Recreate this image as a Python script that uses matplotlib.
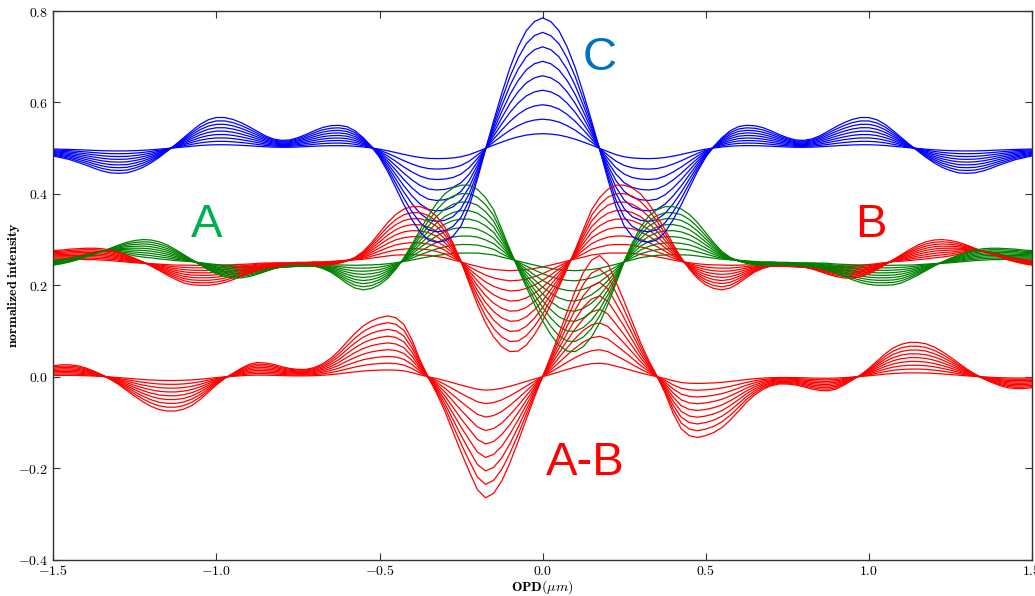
import numpy as np
import matplotlib
matplotlib.use('Agg')
import matplotlib.pyplot as plt
from matplotlib.ticker import FuncFormatter, MultipleLocator

plt.rcParams['mathtext.fontset'] = 'cm'

# OPD sample positions (um)
opd = np.linspace(-1.5, 1.5, 121)

# fringe visibilities of the 9 curves per family (outermost curve = 0.9)
visibility = [0.1, 0.2, 0.3, 0.4, 0.5, 0.6, 0.7, 0.8, 0.9]

# C output, outermost curve, node level 0.5
c_base = 0.5
c_outer = [
    0.483, 0.479, 0.475, 0.469, 0.463, 0.456, 0.450, 0.446, 0.445, 0.446,
    0.451, 0.458, 0.468, 0.480, 0.494, 0.508, 0.523, 0.538, 0.552, 0.562,
    0.567, 0.567, 0.563, 0.556, 0.547, 0.537, 0.527, 0.520, 0.517, 0.518,
    0.523, 0.530, 0.538, 0.545, 0.549, 0.550, 0.547, 0.538, 0.523, 0.504,
    0.480, 0.449, 0.413, 0.376, 0.343, 0.316, 0.299, 0.294, 0.297, 0.307,
    0.330, 0.372, 0.432, 0.497, 0.560, 0.620, 0.676, 0.722, 0.757, 0.777,
    0.785,
    0.777, 0.757, 0.722, 0.676, 0.620, 0.560, 0.497, 0.432, 0.372, 0.330,
    0.307, 0.297, 0.294, 0.299, 0.316, 0.343, 0.376, 0.413, 0.449, 0.480,
    0.504, 0.523, 0.538, 0.547, 0.550, 0.549, 0.545, 0.538, 0.530, 0.523,
    0.518, 0.517, 0.520, 0.527, 0.537, 0.547, 0.556, 0.563, 0.567, 0.567,
    0.562, 0.552, 0.538, 0.523, 0.508, 0.494, 0.480, 0.468, 0.458, 0.451,
    0.446, 0.445, 0.446, 0.450, 0.456, 0.463, 0.469, 0.475, 0.479, 0.483,
]

# A-B, outermost curve, node level 0
ab_base = 0.0
ab_outer = [
    0.024, 0.026, 0.026, 0.024, 0.019, 0.012, 0.004, -0.006, -0.017, -0.030,
    -0.043, -0.055, -0.065, -0.072, -0.075, -0.075, -0.071, -0.063, -0.050, -0.034,
    -0.018, -0.004, 0.007, 0.018, 0.027, 0.031, 0.030, 0.027, 0.022, 0.018,
    0.016, 0.016, 0.020, 0.028, 0.040, 0.056, 0.076, 0.095, 0.111, 0.122,
    0.129, 0.133, 0.129, 0.114, 0.080, 0.035, -0.002, -0.036, -0.075, -0.120,
    -0.165, -0.207, -0.247, -0.265, -0.255, -0.228, -0.188, -0.142, -0.093, -0.045,
    0.000,
    0.045, 0.093, 0.142, 0.188, 0.228, 0.255, 0.265, 0.247, 0.207, 0.165,
    0.120, 0.075, 0.036, 0.002, -0.035, -0.080, -0.114, -0.129, -0.133, -0.129,
    -0.122, -0.111, -0.095, -0.076, -0.056, -0.040, -0.028, -0.020, -0.016, -0.016,
    -0.018, -0.022, -0.027, -0.030, -0.031, -0.027, -0.018, -0.007, 0.004, 0.018,
    0.034, 0.050, 0.063, 0.071, 0.075, 0.075, 0.072, 0.065, 0.055, 0.043,
    0.030, 0.017, 0.006, -0.004, -0.012, -0.019, -0.024, -0.026, -0.026, -0.024,
]

# A output (green): outermost curve and node line
a_outer = [
    0.244, 0.247, 0.251, 0.256, 0.262, 0.268, 0.274, 0.281, 0.288, 0.294,
    0.298, 0.300, 0.299, 0.295, 0.288, 0.278, 0.267, 0.256, 0.245, 0.234,
    0.225, 0.219, 0.216, 0.216, 0.219, 0.224, 0.230, 0.236, 0.240, 0.243,
    0.244, 0.244, 0.242, 0.237, 0.229, 0.217, 0.204, 0.194, 0.190, 0.193,
    0.201, 0.215, 0.235, 0.260, 0.290, 0.322, 0.352, 0.379, 0.400, 0.413,
    0.419, 0.419, 0.410, 0.392, 0.365, 0.322, 0.278, 0.236, 0.196, 0.158,
    0.122, 0.092, 0.069, 0.056, 0.055, 0.066, 0.087, 0.118, 0.158, 0.204,
    0.252, 0.293, 0.327, 0.351, 0.365, 0.372, 0.372, 0.367, 0.355, 0.337,
    0.315, 0.293, 0.274, 0.261, 0.253, 0.248, 0.245, 0.244, 0.244, 0.244,
    0.244, 0.243, 0.242, 0.240, 0.237, 0.232, 0.226, 0.219, 0.212, 0.206,
    0.202, 0.200, 0.200, 0.201, 0.205, 0.213, 0.222, 0.232, 0.242, 0.251,
    0.259, 0.266, 0.272, 0.277, 0.280, 0.281, 0.281, 0.280, 0.279, 0.277,
    0.276,
]
a_base = [
    0.256, 0.258, 0.261, 0.265, 0.269, 0.273, 0.275, 0.274, 0.270, 0.265,
    0.260, 0.257, 0.255, 0.253, 0.252, 0.251, 0.251, 0.251, 0.250, 0.249,
    0.248, 0.247, 0.246, 0.245, 0.244, 0.243, 0.242, 0.241, 0.240, 0.240,
    0.241, 0.242, 0.243, 0.245, 0.246, 0.248, 0.249, 0.250, 0.251, 0.251,
    0.251, 0.251, 0.251, 0.251, 0.251, 0.251, 0.251, 0.251, 0.251, 0.252,
    0.252, 0.252, 0.253, 0.253, 0.254, 0.254, 0.255, 0.255, 0.255, 0.255,
    0.255, 0.255, 0.255, 0.255, 0.254, 0.254, 0.253, 0.252, 0.252, 0.251,
    0.251, 0.251, 0.252, 0.252, 0.253, 0.253, 0.254, 0.254, 0.255, 0.255,
    0.255, 0.255, 0.255, 0.255, 0.255, 0.254, 0.253, 0.252, 0.252, 0.251,
    0.251, 0.250, 0.250, 0.250, 0.250, 0.250, 0.249, 0.249, 0.249, 0.249,
    0.249, 0.249, 0.249, 0.249, 0.249, 0.248, 0.248, 0.248, 0.248, 0.248,
    0.248, 0.249, 0.250, 0.251, 0.252, 0.253, 0.253, 0.254, 0.254, 0.255,
    0.255,
]

# B output (red): outermost curve and node line
b_outer = [
    0.276, 0.277, 0.279, 0.280, 0.281, 0.281, 0.280, 0.277, 0.272, 0.266,
    0.259, 0.251, 0.242, 0.232, 0.222, 0.213, 0.205, 0.201, 0.200, 0.200,
    0.202, 0.206, 0.212, 0.219, 0.226, 0.232, 0.237, 0.240, 0.242, 0.243,
    0.244, 0.244, 0.244, 0.244, 0.245, 0.248, 0.253, 0.261, 0.274, 0.293,
    0.315, 0.337, 0.355, 0.367, 0.372, 0.372, 0.365, 0.351, 0.327, 0.293,
    0.252, 0.204, 0.158, 0.118, 0.087, 0.066, 0.055, 0.056, 0.069, 0.092,
    0.122, 0.158, 0.196, 0.236, 0.278, 0.322, 0.365, 0.392, 0.410, 0.419,
    0.419, 0.413, 0.400, 0.379, 0.352, 0.322, 0.290, 0.260, 0.235, 0.215,
    0.201, 0.193, 0.190, 0.194, 0.204, 0.217, 0.229, 0.237, 0.242, 0.244,
    0.244, 0.243, 0.240, 0.236, 0.230, 0.224, 0.219, 0.216, 0.216, 0.219,
    0.225, 0.234, 0.245, 0.256, 0.267, 0.278, 0.288, 0.295, 0.299, 0.300,
    0.298, 0.294, 0.288, 0.281, 0.274, 0.268, 0.262, 0.256, 0.251, 0.247,
    0.244,
]
b_base = [
    0.255, 0.255, 0.254, 0.254, 0.253, 0.253, 0.252, 0.251, 0.250, 0.249,
    0.248, 0.248, 0.248, 0.248, 0.248, 0.248, 0.249, 0.249, 0.249, 0.249,
    0.249, 0.249, 0.249, 0.249, 0.249, 0.250, 0.250, 0.250, 0.250, 0.250,
    0.251, 0.251, 0.252, 0.252, 0.253, 0.254, 0.255, 0.255, 0.255, 0.255,
    0.255, 0.255, 0.255, 0.254, 0.254, 0.253, 0.253, 0.252, 0.252, 0.251,
    0.251, 0.251, 0.252, 0.252, 0.253, 0.254, 0.254, 0.255, 0.255, 0.255,
    0.255, 0.255, 0.255, 0.255, 0.255, 0.254, 0.254, 0.253, 0.253, 0.252,
    0.252, 0.252, 0.251, 0.251, 0.251, 0.251, 0.251, 0.251, 0.251, 0.251,
    0.251, 0.251, 0.251, 0.250, 0.249, 0.248, 0.246, 0.245, 0.243, 0.242,
    0.241, 0.240, 0.240, 0.241, 0.242, 0.243, 0.244, 0.245, 0.246, 0.247,
    0.248, 0.249, 0.250, 0.251, 0.251, 0.251, 0.252, 0.253, 0.255, 0.257,
    0.260, 0.265, 0.270, 0.274, 0.275, 0.273, 0.269, 0.265, 0.261, 0.258,
    0.256,
]

labels = ['A', 'B', 'C', 'A-B']
label_pos = [(-1.03, 0.331), (1.005, 0.332), (0.174, 0.697), (0.132, -0.189)]
label_colors = ['#00b050', '#ff0000', '#0070c0', '#ff0000']

fig = plt.figure(figsize=(10.35, 5.96), dpi=100)
ax = fig.add_axes([0.0515, 0.0612, 0.9455, 0.9203])


def family(base, outer, v):
    base = np.asarray(base, dtype=float)
    outer = np.asarray(outer, dtype=float)
    return base + (v / visibility[-1]) * (outer - base)


lw = 0.9
for v in visibility:
    ax.plot(opd, family(b_base, b_outer, v), color='r', lw=lw)
    ax.plot(opd, family(a_base, a_outer, v), color='g', lw=lw)
    ax.plot(opd, family(ab_base, ab_outer, v), color='r', lw=lw)
    ax.plot(opd, family(c_base, c_outer, v), color='b', lw=lw)

for txt, (tx, ty), col in zip(labels, label_pos, label_colors):
    ax.text(tx, ty, txt, color=col, fontsize=34, ha='center', va='center',
            family='Liberation Sans')

ax.set_xlim(-1.5, 1.5)
ax.set_ylim(-0.4, 0.8)
ax.xaxis.set_major_locator(MultipleLocator(0.5))
ax.yaxis.set_major_locator(MultipleLocator(0.2))
fmt = FuncFormatter(lambda val, pos: r'$%.1f$' % val)
ax.xaxis.set_major_formatter(fmt)
ax.yaxis.set_major_formatter(fmt)
ax.tick_params(direction='in', top=True, right=True, length=5, width=0.8,
               labelsize=10, color='#333333')
for sp in ax.spines.values():
    sp.set_color('#333333')
    sp.set_linewidth(1.0)

ax.set_xlabel(r'$\mathbf{OPD}(\mu m)$', fontsize=10, va='center')
ax.set_ylabel(r'$\mathbf{normalized\ intensity}$', fontsize=10, va='center')
ax.xaxis.set_label_coords(0.5, -0.051)
ax.yaxis.set_label_coords(-0.040, 0.5)

fig.savefig('out.png', dpi=100, facecolor='white')
